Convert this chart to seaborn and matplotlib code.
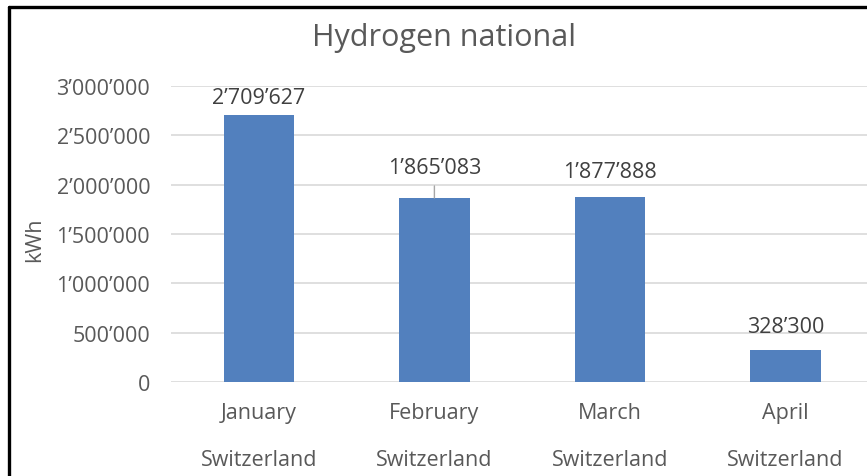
import matplotlib
matplotlib.use("Agg")
import matplotlib.pyplot as plt
import seaborn as sns
import pandas as pd
from matplotlib.lines import Line2D

# ---- data ----
months = ["January", "February", "March", "April"]
countries = ["Switzerland", "Switzerland", "Switzerland", "Switzerland"]
values = [2709627, 1865083, 1877888, 328300]
yticks = [0, 500000, 1000000, 1500000, 2000000, 2500000, 3000000]
title = "Hydrogen national"
ylabel = "kWh"

# label offsets above bar tops (pixels)
label_offsets_px = [17.5, 30, 25.5, 23]
leader_line = [False, True, False, False]


def fmt(v):
    return f"{v:,}".replace(",", "\u2019")


sns.set_theme(style="white")
plt.rcParams["font.family"] = ["Open Sans", "DejaVu Sans"]

W, H = 867, 477
fig = plt.figure(figsize=(W / 100, H / 100), dpi=100)
ax = fig.add_axes([171 / W, (H - 383) / H, 702.4 / W, 296 / H])

df = pd.DataFrame({"month": months, "kWh": values})
sns.barplot(data=df, x="month", y="kWh", color="#5280BE", width=0.4,
            saturation=1, linewidth=0, ax=ax)

grey = "#595959"
fs = 15.5
ax.set_ylim(0, 3000000)
ax.set_xlim(-0.5, 3.5)
ax.set_yticks(yticks)
ax.set_yticklabels([fmt(t) for t in yticks])
ax.yaxis.grid(True, color="#D9D9D9", lw=1.2)
ax.set_axisbelow(True)
for s in ax.spines.values():
    s.set_visible(False)
ax.set_xlabel("")
ax.set_ylabel("")
ax.tick_params(axis="y", length=0, pad=15, labelsize=fs, labelcolor=grey)
ax.tick_params(axis="x", length=0, pad=14.3, labelsize=fs, labelcolor=grey)

px = 72 / 100  # points per pixel
for i, c in enumerate(countries):
    ax.annotate(c, xy=(i, 0), xycoords=("data", "axes fraction"),
                xytext=(0, -77.5 * px), textcoords="offset points",
                ha="center", va="center", fontsize=fs, color=grey)

for i, v in enumerate(values):
    kw = {}
    if leader_line[i]:
        kw["arrowprops"] = dict(arrowstyle="-", color="#A6A6A6", lw=1,
                                shrinkA=3, shrinkB=0)
    ax.annotate(fmt(v), xy=(i, v), xytext=(0, label_offsets_px[i] * px),
                textcoords="offset points", ha="center", va="center",
                fontsize=fs, color="#404040", **kw)

fig.text(444 / W, 1 - 38 / H, title, ha="center", va="center",
         fontsize=22, color=grey)
fig.text(35 / W, 1 - 240 / H, ylabel, ha="center", va="center",
         rotation=90, fontsize=fs, color=grey)

# chart frame (top and left edges visible)
fig.add_artist(Line2D([9 / W, 9 / W], [0, 1 - 8 / H], color="black", lw=2.4,
                      transform=fig.transFigure))
fig.add_artist(Line2D([9 / W, 1], [1 - 8 / H, 1 - 8 / H], color="black", lw=2.4,
                      transform=fig.transFigure))

fig.savefig("out.png", dpi=100)
